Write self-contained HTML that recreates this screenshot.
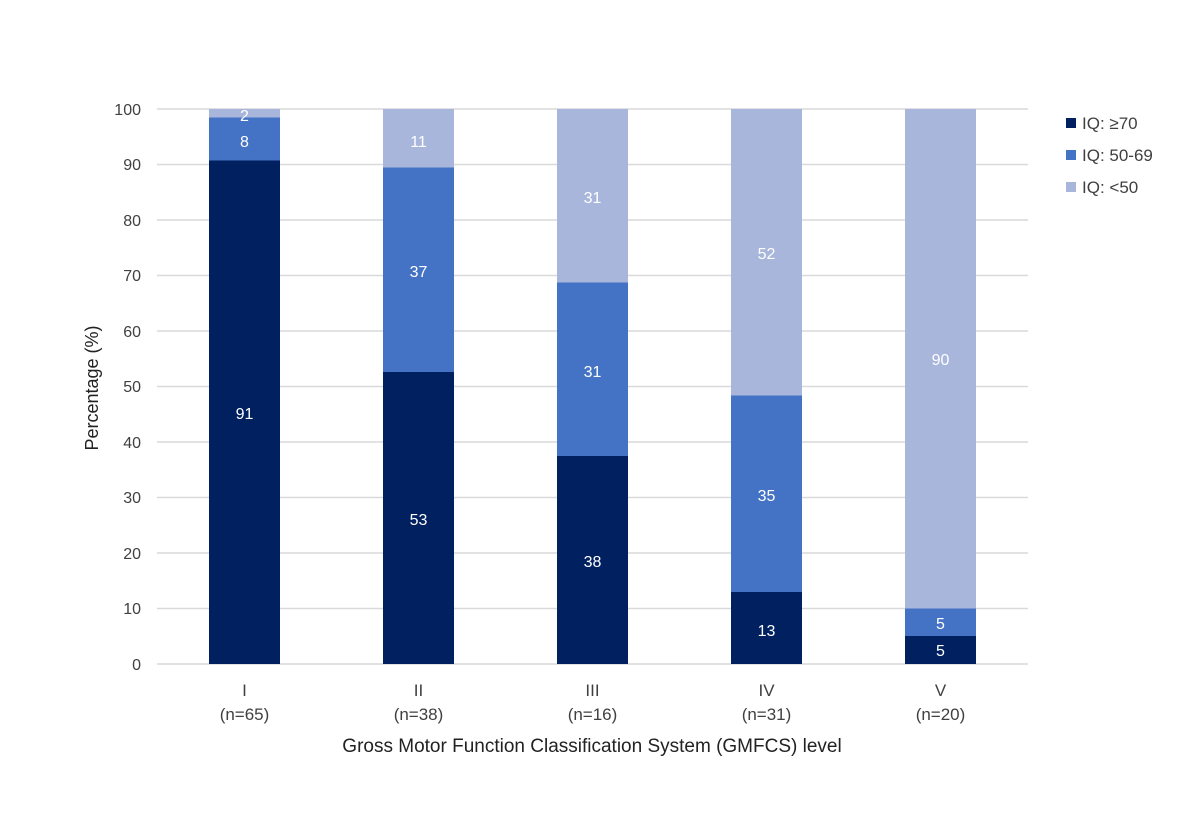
<!DOCTYPE html>
<html><head><meta charset="utf-8"><style>
html,body{margin:0;padding:0;background:#fff;}
svg{display:block;font-family:"Liberation Sans",sans-serif;}
</style></head><body>
<svg width="1200" height="840" viewBox="0 0 1200 840" xmlns="http://www.w3.org/2000/svg">
<rect width="1200" height="840" fill="#fff"/>
<g stroke="#d9d9d9" stroke-width="1.5">
<line x1="157" x2="1028" y1="664" y2="664"/>
<line x1="157" x2="1028" y1="608.5" y2="608.5"/>
<line x1="157" x2="1028" y1="553" y2="553"/>
<line x1="157" x2="1028" y1="497.5" y2="497.5"/>
<line x1="157" x2="1028" y1="442" y2="442"/>
<line x1="157" x2="1028" y1="386.5" y2="386.5"/>
<line x1="157" x2="1028" y1="331" y2="331"/>
<line x1="157" x2="1028" y1="275.5" y2="275.5"/>
<line x1="157" x2="1028" y1="220" y2="220"/>
<line x1="157" x2="1028" y1="164.5" y2="164.5"/>
<line x1="157" x2="1028" y1="109" y2="109"/>
</g>
<g font-size="16" fill="#404040" text-anchor="end">
<text x="141" y="670">0</text>
<text x="141" y="614">10</text>
<text x="141" y="559">20</text>
<text x="141" y="503">30</text>
<text x="141" y="448">40</text>
<text x="141" y="392">50</text>
<text x="141" y="337">60</text>
<text x="141" y="281">70</text>
<text x="141" y="226">80</text>
<text x="141" y="170">90</text>
<text x="141" y="115">100</text>
</g>
<text transform="translate(98,388) rotate(-90)" font-size="18" fill="#222" text-anchor="middle">Percentage (%)</text>
<g>
<rect x="209" y="109" width="71" height="9" fill="#a9b6dc"/>
<rect x="209" y="117.5" width="71" height="43.5" fill="#4472c4"/>
<rect x="209" y="160.5" width="71" height="503.5" fill="#002060"/>
<rect x="383" y="109" width="71" height="59" fill="#a9b6dc"/>
<rect x="383" y="167.5" width="71" height="205" fill="#4472c4"/>
<rect x="383" y="372" width="71" height="292" fill="#002060"/>
<rect x="557" y="109" width="71" height="174" fill="#a9b6dc"/>
<rect x="557" y="282.5" width="71" height="174" fill="#4472c4"/>
<rect x="557" y="456" width="71" height="208" fill="#002060"/>
<rect x="731" y="109" width="71" height="287" fill="#a9b6dc"/>
<rect x="731" y="395.5" width="71" height="197" fill="#4472c4"/>
<rect x="731" y="592" width="71" height="72" fill="#002060"/>
<rect x="905" y="109" width="71" height="500" fill="#a9b6dc"/>
<rect x="905" y="608.5" width="71" height="28" fill="#4472c4"/>
<rect x="905" y="636" width="71" height="28" fill="#002060"/>
</g>
<g font-size="16" fill="#fff" text-anchor="middle">
<text x="244.5" y="121">2</text>
<text x="244.5" y="147">8</text>
<text x="244.5" y="419">91</text>
<text x="418.5" y="147">11</text>
<text x="418.5" y="277">37</text>
<text x="418.5" y="525">53</text>
<text x="592.5" y="203">31</text>
<text x="592.5" y="377">31</text>
<text x="592.5" y="567">38</text>
<text x="766.5" y="259">52</text>
<text x="766.5" y="501">35</text>
<text x="766.5" y="636">13</text>
<text x="940.5" y="365">90</text>
<text x="940.5" y="629">5</text>
<text x="940.5" y="656">5</text>
</g>
<g font-size="17" fill="#404040" text-anchor="middle">
<text x="244.5" y="696">I</text><text x="244.5" y="720">(n=65)</text>
<text x="418.5" y="696">II</text><text x="418.5" y="720">(n=38)</text>
<text x="592.5" y="696">III</text><text x="592.5" y="720">(n=16)</text>
<text x="766.5" y="696">IV</text><text x="766.5" y="720">(n=31)</text>
<text x="940.5" y="696">V</text><text x="940.5" y="720">(n=20)</text>
</g>
<text x="592" y="752" font-size="19" fill="#222" text-anchor="middle">Gross Motor Function Classification System (GMFCS) level</text>
<g font-size="17" fill="#404040">
<rect x="1066" y="118" width="10" height="10" fill="#002060"/>
<text x="1082" y="129">IQ: ≥70</text>
<rect x="1066" y="150" width="10" height="10" fill="#4472c4"/>
<text x="1082" y="161">IQ: 50-69</text>
<rect x="1066" y="182" width="10" height="10" fill="#a9b6dc"/>
<text x="1082" y="193">IQ: &lt;50</text>
</g>
</svg>
</body></html>
